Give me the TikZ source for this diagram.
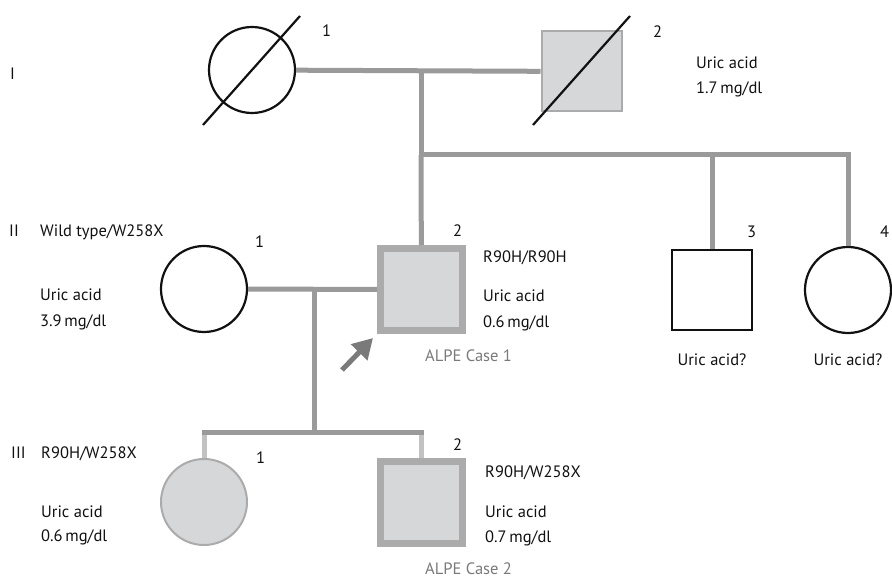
\documentclass[tikz,border=0pt]{standalone}
\usepackage{fontspec}
\setmainfont{PT Sans}
\usetikzlibrary{arrows.meta}
\definecolor{linegray}{HTML}{9A9A9A}
\definecolor{lightline}{HTML}{C2C2C2}
\definecolor{fillgray}{HTML}{D6D7D9}
\definecolor{edgegray}{HTML}{ABABAB}
\definecolor{arrowgray}{HTML}{7A7A7A}
\definecolor{ink}{HTML}{111111}
\tikzset{
  female/.style={circle,draw=ink,line width=2.2pt,minimum size=86pt,inner sep=0pt},
  male/.style={rectangle,draw=ink,line width=2.2pt,minimum size=80pt,inner sep=0pt},
  carrier/.style={fill=fillgray,draw=edgegray,line width=2pt},
  case/.style={rectangle,fill=fillgray,draw=edgegray,line width=7pt,minimum size=82pt,inner sep=0pt},
  link/.style={draw=linegray,line width=5pt},
  lab/.style={anchor=base west,inner sep=0pt,text=ink,font=\fontsize{16.5}{18}\selectfont},
}
\begin{document}
\begin{tikzpicture}[x=1pt,y=-1pt]
\useasboundingbox[fill=white] (0,0) rectangle (892,577);
% generation I
\node[female] (i1) at (252,70) {};
\node[male,carrier] (i2) at (581.5,71.5) {};
\draw[ink,line width=2.2pt] ([shift={(-49,55)}]i1.center) -- ([shift={(48,-54)}]i1.center);
\draw[ink,line width=2.2pt] ([shift={(-48.5,53.5)}]i2.center) -- ([shift={(48.5,-55.5)}]i2.center);
\coordinate (m1) at (421,71);
\coordinate (s1) at (421,155);
% generation II
\node[female] (p21) at (204,289) {};
\node[case] (p22) at (421.5,289.5) {};
\node[male] (p23) at (712,290) {};
\node[female] (p24) at (848,290) {};
\coordinate (m2) at (314,291);
\coordinate (s2) at (314,432);
% generation III
\node[female,carrier] (p31) at (204,502) {};
\node[case] (p32) at (421.5,502.5) {};
% lines of descent
\draw[link] (i1) -- (i2);
\draw[link] (m1) -- (s1);
\draw[link] (s1) -| (p24);
\draw[link] (s1 -| p23) -- (p23);
\draw[link] (s1) -- (p22);
\draw[link] (p21) -- (p22);
\draw[link] (m2) -- (s2);
\draw[draw=lightline,line width=5pt] (s2 -| p31) -- (p31);
\draw[draw=lightline,line width=5pt] (s2 -| p32) -- (p32);
\draw[link] ([xshift=-2.5pt]s2 -| p31) -- ([xshift=2.5pt]s2 -| p32);
\coordinate (a0) at (342,370);
\draw[arrowgray,line width=5pt,-{Triangle[length=20pt,width=22pt]}] (a0) -- ([shift={(-4,4)}]p22.south west);
% labels
\node[lab] (g1) at (10,80) {I};
\node[lab] (n11) at (322,37) {1};
\node[lab] (n12) at (653,38) {2};
\node[lab] (u12) at (696,69) {Uric acid};
\node[lab] (v12) at (696,94) {1.7\,mg/dl};
\node[lab] (g2) at (9,237) {II};
\node[lab] (t21) at (40,237) {Wild type/W258X};
\node[lab] (u21) at (40,301) {Uric acid};
\node[lab] (v21) at (40,327) {3.9\,mg/dl};
\node[lab] (n21) at (255,248) {1};
\node[lab] (n22) at (453,237) {2};
\node[lab] (t22) at (483,263) {R90H/R90H};
\node[lab] (u22) at (483,302) {Uric acid};
\node[lab] (v22) at (483,328) {0.6\,mg/dl};
\node[lab,text=arrowgray] (c1) at (425,362) {ALPE Case 1};
\node[lab] (n23) at (747,238) {3};
\node[lab] (n24) at (880,238) {4};
\node[lab,anchor=base] (u23) at (712,366) {Uric acid?};
\node[lab,anchor=base] (u24) at (848,366) {Uric acid?};
\node[lab] (g3) at (11,458) {III};
\node[lab] (t31) at (41,458) {R90H/W258X};
\node[lab] (u31) at (41,517) {Uric acid};
\node[lab] (v31) at (41,541) {0.6\,mg/dl};
\node[lab] (n31) at (256,463) {1};
\node[lab] (n32) at (453,450) {2};
\node[lab] (t32) at (485,477) {R90H/W258X};
\node[lab] (u32) at (485,517) {Uric acid};
\node[lab] (v32) at (485,542) {0.7\,mg/dl};
\node[lab,text=arrowgray] (c2) at (425,574) {ALPE Case 2};
\end{tikzpicture}
\end{document}
